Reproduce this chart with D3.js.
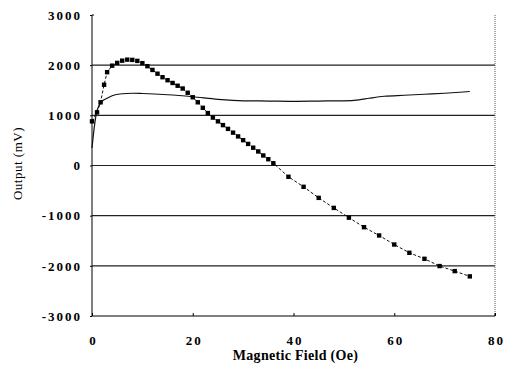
<!DOCTYPE html>
<html>
<head>
<meta charset="utf-8">
<script src="https://cdn.jsdelivr.net/npm/d3@7"></script>
<style>
  body { margin: 0; background: #fff; }
  svg { display: block; font-family: "Liberation Serif", "Times New Roman", serif; }
</style>
</head>
<body>
<div id="chart"></div>
<script>
// x ticks and y ticks
const xTicks = [0, 20, 40, 60, 80];
const yTicks = [-3000, -2000, -1000, 0, 1000, 2000, 3000];
const gridValues = [-2000, -1000, 0, 1000, 2000];

// marker series (field, output)
const markerField = [0, 1, 1.7, 2.4, 3, 4, 5, 6, 7, 8, 9, 10, 11, 12, 13, 14, 15, 16, 17, 18, 19, 20,
  21, 22, 23, 24, 25, 26, 27, 28, 29, 30, 31, 32, 33, 34, 35, 36,
  39, 42, 45, 48, 51, 54, 57, 60, 63, 66, 69, 72, 75];
const markerOutput = [880, 1060, 1260, 1610, 1860, 1990, 2045, 2090, 2110, 2105, 2085, 2040, 1980, 1905, 1830, 1760, 1700, 1645, 1590, 1535, 1450, 1360,
  1260, 1150, 1045, 955, 880, 805, 730, 655, 580, 505, 430, 355, 280, 200, 125, 45,
  -225, -425, -645, -845, -1040, -1230, -1395, -1575, -1740, -1860, -2005, -2105, -2210];

// solid line series
const lineField = [0, 0.5, 1, 2, 3, 4, 6, 8, 10, 15, 20, 25, 30, 35, 40, 45, 50, 53, 55, 58, 62, 66, 70, 73, 75];
const lineOutput = [350, 800, 1100, 1280, 1340, 1390, 1430, 1440, 1435, 1410, 1370, 1320, 1290, 1285, 1280, 1285, 1290, 1310, 1340, 1380, 1400, 1420, 1440, 1460, 1475];

const margin = { top: 15, right: 17, bottom: 58, left: 92 };
const width = 512 - margin.left - margin.right;
const height = 374 - margin.top - margin.bottom;

const svg = d3.select("#chart")
  .append("svg")
  .attr("width", 512)
  .attr("height", 374)
  .append("g")
  .attr("transform", "translate(" + margin.left + "," + margin.top + ")");

const x = d3.scaleLinear().domain([0, 80]).range([0, width]);
const y = d3.scaleLinear().domain([-3000, 3000]).range([height, 0]);

// gridlines
svg.selectAll("line.grid")
  .data(gridValues)
  .enter().append("line")
  .attr("class", "grid")
  .attr("x1", 0).attr("x2", width)
  .attr("y1", d => y(d)).attr("y2", d => y(d))
  .attr("stroke", "#222")
  .attr("stroke-width", 1.2);

// right border (dotted)
svg.append("line")
  .attr("x1", width).attr("x2", width)
  .attr("y1", 0).attr("y2", height)
  .attr("stroke", "#555")
  .attr("stroke-dasharray", "1,1");

// left axis, plain hyphen for negatives
const yAxis = svg.append("g")
  .call(d3.axisLeft(y).tickValues(yTicks).tickSize(2).tickFormat(d => String(d)));
yAxis.select(".domain").attr("d", "M2,0H0V" + height);
yAxis.selectAll("text")
  .attr("x", -10)
  .style("font-family", "Liberation Serif, serif")
  .style("font-size", "13px")
  .style("font-weight", "bold")
  .style("letter-spacing", "2px")
  .attr("fill", "#000");

// bottom axis
const xAxis = svg.append("g")
  .attr("transform", "translate(0," + height + ")")
  .call(d3.axisBottom(x).tickValues(xTicks).tickSize(-3).tickPadding(20));
xAxis.select(".domain").attr("d", "M0,0H" + width + "V-3");
xAxis.selectAll("text")
  .attr("dx", 1)
  .style("font-family", "Liberation Serif, serif")
  .style("font-size", "13px")
  .style("font-weight", "bold")
  .style("letter-spacing", "2px")
  .attr("fill", "#000");

// axis titles
svg.append("text")
  .attr("x", width / 2 + 2)
  .attr("y", height + 44)
  .attr("text-anchor", "middle")
  .style("font-size", "14px")
  .style("font-weight", "bold")
  .style("letter-spacing", "0.3px")
  .text("Magnetic Field (Oe)");

svg.append("text")
  .attr("transform", "translate(" + (-70) + "," + (y(0) - 2) + ") rotate(-90)")
  .attr("text-anchor", "middle")
  .style("font-size", "13px")
  .style("letter-spacing", "0.5px")
  .text("Output (mV)");

// solid line
const solidData = lineField.map((f, i) => ({ f: f, v: lineOutput[i] }));
svg.append("path")
  .datum(solidData)
  .attr("fill", "none")
  .attr("stroke", "#111")
  .attr("stroke-width", 1.2)
  .attr("d", d3.line().x(d => x(d.f)).y(d => y(d.v)).curve(d3.curveMonotoneX));

// dashed line with square markers
const markData = markerField.map((f, i) => ({ f: f, v: markerOutput[i] }));
svg.append("path")
  .datum(markData)
  .attr("fill", "none")
  .attr("stroke", "#111")
  .attr("stroke-width", 1)
  .attr("stroke-dasharray", "3,2")
  .attr("d", d3.line().x(d => x(d.f)).y(d => y(d.v)));

svg.selectAll("rect.mark")
  .data(markData)
  .enter().append("rect")
  .attr("class", "mark")
  .attr("x", d => x(d.f) - 2.2)
  .attr("y", d => y(d.v) - 2.2)
  .attr("width", 4.4)
  .attr("height", 4.4)
  .attr("fill", "#000");
</script>
</body>
</html>
